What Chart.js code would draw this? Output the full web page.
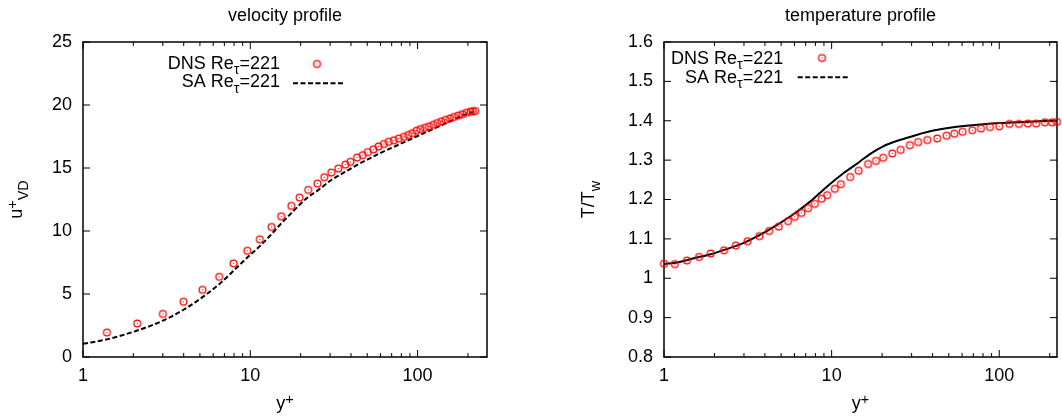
<!DOCTYPE html>
<html><head><meta charset="utf-8">
<script src="https://cdn.jsdelivr.net/npm/chart.js@4/dist/chart.umd.min.js"></script>
<style>
html,body{margin:0;padding:0;background:#fff;overflow:hidden;width:1062px;height:420px;}
canvas{position:absolute;top:0;}
#c1{left:0;}
#c2{left:531px;}
</style></head><body>
<canvas id="c1" width="531" height="420" style="width:531px;height:420px"></canvas>
<canvas id="c2" width="531" height="420" style="width:531px;height:420px"></canvas>
<script>
// ---------------- DATA ----------------
const xTickValues = [1, 10, 100];

// velocity profile
const velDnsYplus = [1.39, 2.11, 3.0, 3.99, 5.18, 6.52, 7.94, 9.6, 11.4, 13.4, 15.3, 17.6, 19.7, 22.2, 25.2, 27.7, 30.5, 33.6, 37.0, 39.7, 43.5, 47.0, 50.4, 54.5, 58.4, 62.8, 67.3, 72.1, 77.3, 82.8, 87.9, 92.9, 98.6, 104, 110.6, 116.9, 124, 131, 138.7, 147, 156, 165, 175, 185, 196, 207, 214, 221];
const velDnsU     = [1.94, 2.66, 3.42, 4.38, 5.33, 6.36, 7.43, 8.43, 9.34, 10.32, 11.17, 11.99, 12.65, 13.26, 13.76, 14.27, 14.64, 14.96, 15.27, 15.49, 15.83, 16.02, 16.26, 16.48, 16.71, 16.9, 17.08, 17.2, 17.34, 17.48, 17.62, 17.76, 17.96, 18.09, 18.19, 18.3, 18.43, 18.57, 18.7, 18.82, 18.93, 19.05, 19.16, 19.27, 19.38, 19.47, 19.5, 19.52];
const velSaYplus  = [1, 1.39, 2.11, 3.0, 3.99, 5.18, 6.52, 7.94, 9.6, 11.4, 13.4, 15.3, 17.6, 19.7, 22.2, 25.2, 30.5, 37, 43.5, 50.4, 58.4, 67.3, 77.3, 87.9, 98.6, 124, 156, 185, 221];
const velSaU      = [1.05, 1.4, 2.1, 2.88, 3.75, 4.75, 5.78, 6.85, 7.9, 8.8, 9.75, 10.6, 11.42, 12.08, 12.7, 13.2, 14.05, 14.7, 15.25, 15.68, 16.12, 16.5, 16.86, 17.2, 17.5, 18.1, 18.7, 19.15, 19.5];
const velYTicks   = [0, 5, 10, 15, 20, 25];

// temperature profile
const tempDnsYplus = [1.0, 1.16, 1.37, 1.62, 1.9, 2.28, 2.68, 3.15, 3.71, 4.24, 4.84, 5.5, 6.03, 6.61, 7.24, 7.94, 8.71, 9.4, 10.45, 11.35, 12.9, 14.5, 16.5, 18.4, 20.3, 23, 25.8, 29.3, 32.8, 37.2, 42.6, 48.5, 53.9, 60.4, 69, 77.8, 88, 100, 115, 131, 148, 166, 187, 206, 221];
const tempDnsT     = [1.037, 1.036, 1.045, 1.054, 1.063, 1.071, 1.083, 1.094, 1.107, 1.12, 1.131, 1.145, 1.156, 1.166, 1.178, 1.189, 1.202, 1.211, 1.227, 1.239, 1.257, 1.273, 1.29, 1.298, 1.306, 1.317, 1.326, 1.338, 1.346, 1.351, 1.355, 1.362, 1.367, 1.372, 1.376, 1.38, 1.384, 1.386, 1.392, 1.392, 1.393, 1.393, 1.396, 1.396, 1.397];
const tempSaYplus  = [1, 1.2, 1.49, 1.9, 2.36, 3, 3.73, 4.7, 5.89, 7.41, 9.33, 11.7, 14.7, 17, 20.3, 25.5, 32.1, 40.4, 50.8, 63.8, 80.3, 101, 127, 160, 201, 221];
const tempSaT      = [1.036, 1.04, 1.05, 1.061, 1.074, 1.09, 1.11, 1.135, 1.162, 1.194, 1.232, 1.266, 1.296, 1.316, 1.335, 1.351, 1.364, 1.375, 1.382, 1.387, 1.391, 1.394, 1.396, 1.398, 1.4, 1.4];
const tempYTicks   = [0.8, 0.9, 1.0, 1.1, 1.2, 1.3, 1.4, 1.5, 1.6];

// ---------------- HELPERS ----------------
const FONT = '"Liberation Sans", Arial, Helvetica, sans-serif';
const FS = 18;
const toPts = (xs, ys) => xs.map((x, i) => ({x: x, y: ys[i]}));

function makeMarker() {
  const c = document.createElement('canvas');
  c.width = 11; c.height = 11;
  const g = c.getContext('2d');
  g.strokeStyle = '#ff0000'; g.lineWidth = 1.25;
  g.beginPath(); g.arc(5.5, 5.5, 3.4, 0, Math.PI * 2); g.stroke();
  g.fillStyle = '#ff0000'; g.fillRect(5, 5, 1, 1);
  return c;
}
const marker = makeMarker();

function drawRich(ctx, parts, x, y, align) {
  const small = FS * 0.8;
  const ws = parts.map(p => { ctx.font = (p.s ? small : FS) + 'px ' + FONT; return ctx.measureText(p.t).width; });
  const total = ws.reduce((a, b) => a + b, 0);
  let cx = align === 'right' ? x - total : align === 'center' ? x - total / 2 : x;
  ctx.textAlign = 'left'; ctx.textBaseline = 'alphabetic';
  parts.forEach((p, i) => {
    ctx.font = (p.s ? small : FS) + 'px ' + FONT;
    const dy = p.s === 1 ? -0.3 * FS : p.s === -1 ? 0.32 * FS : 0;
    ctx.fillText(p.t, cx, y + dy);
    cx += ws[i];
  });
}

const framePlugin = {
  id: 'frame',
  beforeDatasetsDraw(chart) {
    const o = chart.options.plugins.frame;
    const ctx = chart.ctx, a = chart.chartArea;
    const xs = chart.scales.x, ys = chart.scales.y;
    ctx.save();
    ctx.strokeStyle = '#000';
    ctx.lineWidth = 1.5;
    ctx.strokeRect(a.left, a.top, a.right - a.left, a.bottom - a.top);
    ctx.lineWidth = 1;
    ctx.beginPath();
    const xmax = xs.max;
    for (let d = 1; d <= xmax; d *= 10) {
      for (let m = 1; m <= 9; m++) {
        const v = m * d;
        if (v > xmax) break;
        const px = xs.getPixelForValue(v);
        const len = m === 1 ? 7 : 4;
        ctx.moveTo(px, a.bottom); ctx.lineTo(px, a.bottom - len);
        ctx.moveTo(px, a.top); ctx.lineTo(px, a.top + len);
      }
    }
    o.yTicks.forEach(v => {
      const py = ys.getPixelForValue(v);
      ctx.moveTo(a.left, py); ctx.lineTo(a.left + 7, py);
      ctx.moveTo(a.right, py); ctx.lineTo(a.right - 7, py);
    });
    ctx.stroke();
    ctx.restore();
  },
  afterDraw(chart) {
    const o = chart.options.plugins.frame;
    const ctx = chart.ctx, a = chart.chartArea;
    const cxm = (a.left + a.right) / 2, cym = (a.top + a.bottom) / 2;
    ctx.save();
    ctx.fillStyle = '#000';
    drawRich(ctx, [{t: o.title}], cxm, 21, 'center');
    drawRich(ctx, [{t: 'y'}, {t: '+', s: 1}], cxm, 409, 'center');
    ctx.save();
    ctx.translate(o.yTitleX, cym);
    ctx.rotate(-Math.PI / 2);
    drawRich(ctx, o.yTitle, 0, 0, 'center');
    ctx.restore();
    const L = o.legend;
    ctx.fillStyle = '#000';
    drawRich(ctx, [{t: 'DNS Re'}, {t: 'τ', s: -1}, {t: '=221'}], L.textRight, L.row1, 'right');
    drawRich(ctx, [{t: 'SA Re'}, {t: 'τ', s: -1}, {t: '=221'}], L.textRight, L.row2, 'right');
    ctx.drawImage(marker, Math.round(L.markX) - 5.5, Math.round(L.markY) - 5.5);
    ctx.strokeStyle = '#000'; ctx.lineWidth = 2; ctx.setLineDash([5, 2.5]);
    ctx.beginPath(); ctx.moveTo(L.dash1, L.dashY); ctx.lineTo(L.dash2, L.dashY); ctx.stroke();
    ctx.restore();
  }
};

function makeChart(id, cfg) {
  return new Chart(document.getElementById(id), {
    type: 'line',
    data: {
      datasets: [
        {label: 'DNS', data: cfg.dns, showLine: false, pointStyle: marker, pointRadius: 4, clip: false, borderColor: '#ff0000', backgroundColor: '#ff0000'},
        {label: 'SA', data: cfg.sa, borderColor: '#000', borderWidth: 2, borderDash: cfg.dash, pointRadius: 0, cubicInterpolationMode: 'monotone', fill: false}
      ]
    },
    options: {
      responsive: false,
      animation: false,
      events: [],
      layout: {padding: {left: 0, right: cfg.padRight, top: 42, bottom: 0}, autoPadding: false},
      plugins: {
        legend: {display: false},
        title: {display: false},
        tooltip: {enabled: false},
        frame: {title: cfg.title, yTicks: cfg.yTicks, yTitle: cfg.yTitle, yTitleX: cfg.yTitleX, legend: cfg.legend}
      },
      scales: {
        x: {
          type: 'logarithmic', min: 1, max: cfg.xmax,
          grid: {display: false, drawTicks: false}, border: {display: false},
          afterBuildTicks: s => { s.ticks = xTickValues.map(v => ({value: v})); },
          afterFit: s => { s.height = 63; s.paddingLeft = 0; s.paddingRight = 0; },
          ticks: {color: '#000', padding: 8, font: {family: FONT, size: FS}, maxRotation: 0, autoSkip: false, callback: v => String(v)}
        },
        y: {
          type: 'linear', min: cfg.yTicks[0], max: cfg.yTicks[cfg.yTicks.length - 1],
          grid: {display: false, drawTicks: false}, border: {display: false},
          afterBuildTicks: s => { s.ticks = cfg.yTicks.map(v => ({value: v})); },
          afterFit: s => { s.width = cfg.yWidth; s.paddingTop = 0; s.paddingBottom = 0; },
          ticks: {color: '#000', padding: 11, font: {family: FONT, size: FS}, autoSkip: false, callback: v => String(Math.round(v * 10) / 10)}
        }
      }
    },
    plugins: [framePlugin]
  });
}

makeChart('c1', {
  dns: toPts(velDnsYplus, velDnsU),
  sa: toPts(velSaYplus, velSaU),
  dash: [5, 2.5],
  title: 'velocity profile',
  xmax: 260,
  yTicks: velYTicks,
  yWidth: 83,
  padRight: 44,
  yTitle: [{t: 'u'}, {t: '+', s: 1}, {t: 'VD', s: -1}],
  yTitleX: 22,
  legend: {textRight: 280, row1: 68.5, row2: 87, markX: 317.3, markY: 64.3, dash1: 293, dash2: 344, dashY: 83.3}
});

makeChart('c2', {
  dns: toPts(tempDnsYplus, tempDnsT),
  sa: toPts(tempSaYplus, tempSaT),
  dash: [],
  title: 'temperature profile',
  xmax: 221,
  yTicks: tempYTicks,
  yWidth: 133,
  padRight: 5,
  yTitle: [{t: 'T/T'}, {t: 'w', s: -1}],
  yTitleX: 594 - 531,
  legend: {textRight: 252.3, row1: 63.5, row2: 82.5, markX: 291.3, markY: 58.3, dash1: 266.7, dash2: 317.3, dashY: 77.3}
});
</script>
</body></html>
